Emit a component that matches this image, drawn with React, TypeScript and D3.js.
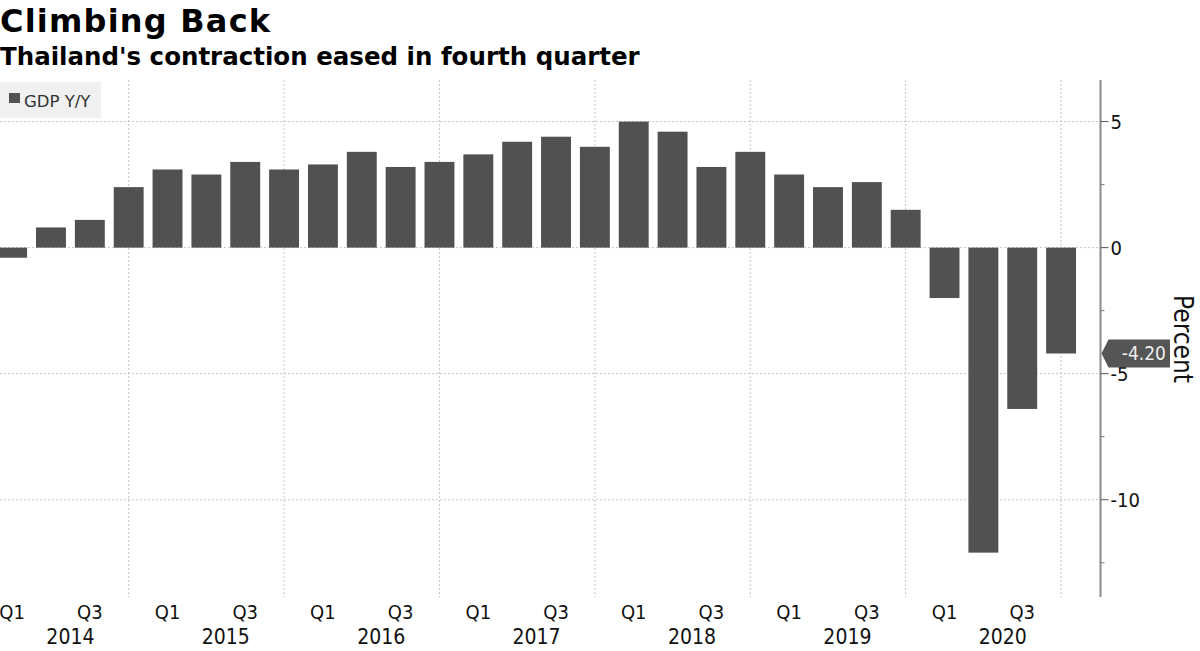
import React from "react";
import * as d3 from "d3";

const years = ["2014", "2015", "2016", "2017", "2018", "2019", "2020"];
const quarters = ["Q1", "Q2", "Q3", "Q4"];
const gdpYoY = [
  -0.4, 0.8, 1.1, 2.4,
  3.1, 2.9, 3.4, 3.1,
  3.3, 3.8, 3.2, 3.4,
  3.7, 4.2, 4.4, 4.0,
  5.0, 4.6, 3.2, 3.8,
  2.9, 2.4, 2.6, 1.5,
  -2.0, -12.1, -6.4, -4.2,
];
const yTicks = [5, 0, -5, -10];
const yMinorTicks = [2.5, -2.5, -7.5, -12.5];
const lastLabel = "-4.20";

const W = 1200;
const H = 651;
const plotTop = 80;
const plotBottom = 597;
const axisX = 1100.5;

const tickFont = "'DejaVu Sans Condensed', 'DejaVu Sans', sans-serif";
const titleFont = "'DejaVu Sans', sans-serif";

export default function App() {
  const keys = years.flatMap((y) => quarters.map((q) => `${y} ${q}`));
  const data = keys.map((k, i) => ({ key: k, year: k.slice(0, 4), q: k.slice(5), v: gdpYoY[i] }));

  const x = d3.scaleBand<string>().domain(keys).range([-7.3, 1080.5]).paddingInner(0.23).paddingOuter(0.115);
  const y = d3.scaleLinear().domain([-13.86, 6.65]).range([plotBottom, plotTop]);
  const bw = x.bandwidth();
  const cx = (k: string) => (x(k) as number) + bw / 2;

  const last = data[data.length - 1];
  const ly = y(last.v);

  return (
    <svg width={W} height={H} style={{ position: "absolute", left: 0, top: 0, background: "#fff" }}>
      <text x={0} y={32} fontFamily={titleFont} fontWeight="bold" fontSize={32} letterSpacing={1.2} fill="#000">
        Climbing Back
      </text>
      <text x={0} y={65} fontFamily={titleFont} fontWeight="bold" fontSize={24.5} fill="#000">
        Thailand's contraction eased in fourth quarter
      </text>

      {/* horizontal gridlines */}
      {yTicks.map((t) => (
        <line key={"h" + t} x1={0} x2={axisX} y1={y(t)} y2={y(t)} stroke="#c4c4c4" strokeWidth={1} strokeDasharray="2,2" />
      ))}
      {/* vertical gridlines at Q4 */}
      {data.filter((d) => d.q === "Q4").map((d) => (
        <line key={"v" + d.key} x1={cx(d.key)} x2={cx(d.key)} y1={plotTop} y2={plotBottom} stroke="#c4c4c4" strokeWidth={1} strokeDasharray="2,2" />
      ))}

      {/* legend */}
      <rect x={0} y={82} width={101} height={36} fill="#f0f0f0" />
      <rect x={9} y={93} width={11} height={10} fill="#515151" />
      <text x={24} y={106.5} fontFamily={titleFont} fontSize={16.5} fill="#333">
        GDP Y/Y
      </text>

      {/* bars */}
      {data.map((d) => (
        <rect
          key={d.key}
          x={x(d.key)}
          y={y(Math.max(0, d.v))}
          width={bw}
          height={Math.abs(y(d.v) - y(0))}
          fill="#515151"
        />
      ))}

      {/* right axis */}
      <line x1={axisX} x2={axisX} y1={plotTop} y2={plotBottom} stroke="#8a8a8a" strokeWidth={2} />
      {yTicks.map((t) => (
        <g key={"t" + t}>
          <line x1={axisX} x2={axisX + 8} y1={y(t)} y2={y(t)} stroke="#555" strokeWidth={1} />
          <text x={axisX + 10} y={y(t)} dy="0.36em" fontFamily={tickFont} fontSize={20} fill="#111">
            {t}
          </text>
        </g>
      ))}
      {yMinorTicks.map((t) => (
        <line key={"m" + t} x1={axisX} x2={axisX + 4} y1={y(t)} y2={y(t)} stroke="#777" strokeWidth={1} />
      ))}
      <text
        transform={`translate(1174, ${339}) rotate(90)`}
        textAnchor="middle"
        fontFamily={tickFont}
        fontSize={26}
        fill="#111"
      >
        Percent
      </text>

      {/* last value label */}
      <path
        d={`M${axisX + 1},${ly} L${axisX + 8},${ly - 14} L1170,${ly - 14} L1170,${ly + 14} L${axisX + 8},${ly + 14} Z`}
        fill="#555"
      />
      <text x={1166} y={ly} dy="0.36em" textAnchor="end" fontFamily={tickFont} fontSize={19} fill="#eee">
        {lastLabel}
      </text>

      {/* x axis labels */}
      {data.filter((d) => d.q === "Q1" || d.q === "Q3").map((d) => (
        <text key={"q" + d.key} x={cx(d.key)} y={619} textAnchor="middle" fontFamily={tickFont} fontSize={20} fill="#111">
          {d.q}
        </text>
      ))}
      {years.map((yr) => (
        <text
          key={"y" + yr}
          x={(cx(`${yr} Q2`) + cx(`${yr} Q3`)) / 2}
          y={644}
          textAnchor="middle"
          fontFamily={tickFont}
          fontSize={21}
          fill="#111"
        >
          {yr}
        </text>
      ))}
    </svg>
  );
}
